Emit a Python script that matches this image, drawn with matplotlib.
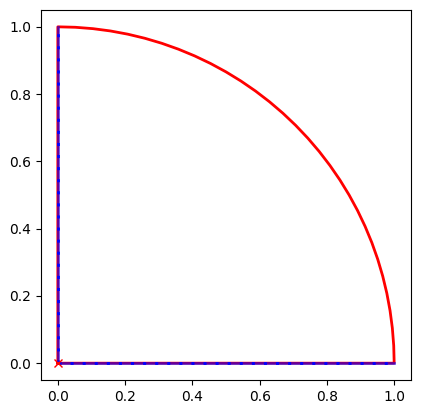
import matplotlib
matplotlib.use("Agg")
import matplotlib.pyplot as plt
import numpy as np

# quarter circle boundary, angles in degrees
ANGLES = [0, 3, 6, 9, 12, 15, 18, 21, 24, 27, 30, 33, 36, 39, 42, 45, 48, 51, 54, 57,
          60, 63, 66, 69, 72, 75, 78, 81, 84, 87, 90]
EDGE_X = [0.0, 1.0]
EDGE_Y = [0.0, 1.0]
ORIGIN = [0.0, 0.0]

plt.rcParams["lines.scale_dashes"] = False

t = np.radians(ANGLES)
arc_x = np.cos(t)
arc_y = np.sin(t)

fig = plt.figure(figsize=(4.21, 4.13), dpi=100)
ax = fig.add_axes([41 / 421, 33 / 413, 370 / 421, 370 / 413])

# red outline: origin -> (1,0) -> arc -> (0,1) -> origin
px = np.concatenate([[ORIGIN[0]], arc_x, [ORIGIN[0]]])
py = np.concatenate([[ORIGIN[1]], arc_y, [ORIGIN[1]]])
ax.plot(px, py, "r-", linewidth=2)

# blue edges along the axes (semi-transparent, with denser blue dashes)
for xs, ys in [(EDGE_X, [ORIGIN[1], ORIGIN[1]]), ([ORIGIN[0], ORIGIN[0]], EDGE_Y)]:
    ax.plot(xs, ys, color="b", linewidth=2, alpha=0.6)
    ax.plot(xs, ys, color="b", linewidth=2, dashes=(2.2, 6.5))

ax.plot(ORIGIN[0], ORIGIN[1], "rx")

ax.set_xlim(-0.05, 1.05)
ax.set_ylim(-0.05, 1.05)
ax.set_aspect("equal")

plt.savefig("out.png")
